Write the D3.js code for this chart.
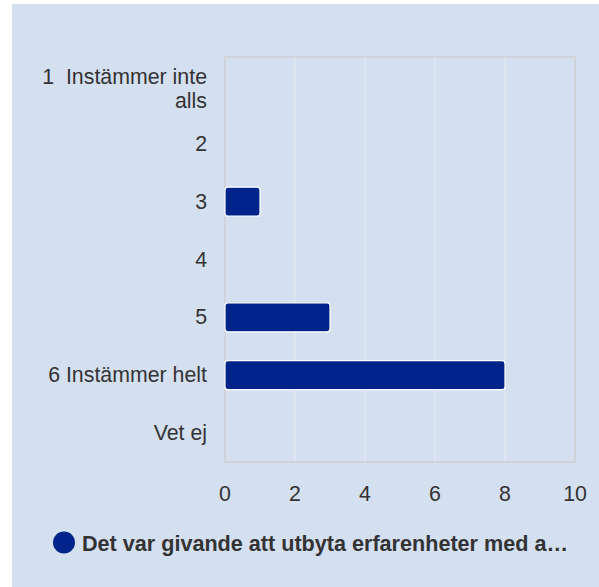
<!DOCTYPE html>
<html>
<head>
<meta charset="utf-8">
<script src="https://cdn.jsdelivr.net/npm/d3@7"></script>
<style>
  body { margin: 0; background: #fff; }
  text { font-family: "Liberation Sans", Arial, sans-serif; }
</style>
</head>
<body>
<div id="chart"></div>
<script>
const categories = ['1  Instämmer inte alls', '2', '3', '4', '5', '6 Instämmer helt', 'Vet ej'];
const values = [0, 0, 1, 0, 3, 8, 0];
const xTicks = [0, 2, 4, 6, 8, 10];
const seriesName = 'Det var givande att utbyta erfarenheter med a…';

const largura = 599, altura = 587;
const margin = { left: 225, right: 24, top: 57, bottom: 125 };
const fonte = 21.33;

const svg = d3.select('#chart')
    .append('svg')
    .attr('width', largura)
    .attr('height', altura);

// Bakgrund
svg.append('rect')
    .attr('x', 12).attr('y', 4)
    .attr('width', largura - 12).attr('height', altura - 4)
    .attr('fill', '#d4dff0');

const x = d3.scaleLinear()
    .domain([0, 10])
    .range([margin.left, largura - margin.right]);

const yCat = d3.scaleBand()
    .domain(categories)
    .range([margin.top, altura - margin.bottom]);

// Rutnät
svg.append('g')
    .selectAll('line')
    .data(xTicks.slice(1, -1))
    .enter()
    .append('line')
    .attr('x1', d => x(d)).attr('x2', d => x(d))
    .attr('y1', margin.top).attr('y2', altura - margin.bottom)
    .attr('stroke', '#e3e7ee')
    .attr('stroke-width', 1.5);

svg.append('rect')
    .attr('x', margin.left).attr('y', margin.top)
    .attr('width', x(10) - x(0))
    .attr('height', altura - margin.bottom - margin.top)
    .attr('fill', 'none')
    .attr('stroke', '#cdcfd3')
    .attr('stroke-width', 1.5);

// Staplar
svg.append('g')
    .selectAll('rect')
    .data(categories.map((c, i) => ({ kategori: c, valor: values[i] })).filter(d => d.valor > 0))
    .enter()
    .append('rect')
    .attr('x', x(0))
    .attr('y', d => yCat(d.kategori) + yCat.bandwidth() / 2 - 14.5)
    .attr('width', d => x(d.valor) - x(0))
    .attr('height', 29)
    .attr('rx', 3)
    .attr('fill', '#00248a')
    .attr('stroke', '#ffffff')
    .attr('stroke-width', 1.2);

// Y-etiketter
const yLabels = svg.append('g')
    .selectAll('text')
    .data(categories)
    .enter()
    .append('text')
    .attr('text-anchor', 'end')
    .attr('font-size', fonte)
    .attr('fill', '#333333')
    .attr('y', d => yCat(d) + yCat.bandwidth() / 2);

yLabels.each(function (d) {
    const t = d3.select(this);
    const lines = d === categories[0] ? ['1  Instämmer inte', 'alls'] : [d];
    lines.forEach((l, i) => {
        t.append('tspan')
            .attr('x', 207)
            .attr('dy', i === 0 ? (lines.length > 1 ? -2 : 7) : 24)
            .attr('xml:space', 'preserve')
            .text(l);
    });
});

// X-axel
svg.append('g')
    .selectAll('text')
    .data(xTicks)
    .enter()
    .append('text')
    .attr('x', d => x(d))
    .attr('y', 501)
    .attr('text-anchor', 'middle')
    .attr('font-size', fonte)
    .attr('fill', '#333333')
    .text(d => d);

// Legend
svg.append('circle')
    .attr('cx', 64).attr('cy', 542.5)
    .attr('r', 11)
    .attr('fill', '#00248a');

svg.append('text')
    .attr('x', 82).attr('y', 551)
    .attr('font-size', 21.6)
    .attr('font-weight', 'bold')
    .attr('fill', '#333333')
    .text(seriesName);
</script>
</body>
</html>
